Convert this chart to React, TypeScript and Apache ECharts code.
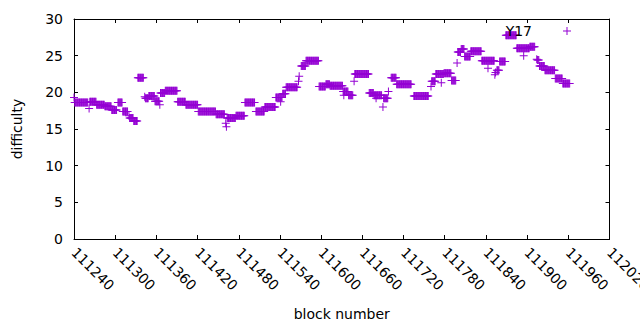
import React, { useEffect, useRef } from "react";
import * as echarts from "echarts";

// constant-difficulty runs: [firstBlock, lastBlock, difficulty]
const runs: [number, number, number][] = [
  [111241, 111260, 18.6],
  [111263, 111272, 18.7],
  [111273, 111284, 18.3],
  [111285, 111294, 18.1],
  [111295, 111302, 17.6],
  [111304, 111310, 18.6],
  [111311, 111318, 17.4],
  [111321, 111326, 16.5],
  [111327, 111332, 16.1],
  [111333, 111341, 22.0],
  [111344, 111348, 19.2],
  [111349, 111357, 19.5],
  [111358, 111364, 18.8],
  [111366, 111372, 19.9],
  [111373, 111390, 20.2],
  [111391, 111402, 18.7],
  [111403, 111420, 18.3],
  [111421, 111446, 17.4],
  [111447, 111459, 17.0],
  [111463, 111475, 16.5],
  [111476, 111488, 16.8],
  [111489, 111503, 18.6],
  [111505, 111517, 17.4],
  [111518, 111533, 18.0],
  [111534, 111543, 19.3],
  [111544, 111548, 19.8],
  [111549, 111565, 20.7],
  [111571, 111577, 23.6],
  [111578, 111596, 24.3],
  [111597, 111606, 20.8],
  [111607, 111612, 21.1],
  [111613, 111631, 20.9],
  [111632, 111639, 20.1],
  [111640, 111646, 19.6],
  [111649, 111669, 22.5],
  [111670, 111676, 19.9],
  [111677, 111688, 19.6],
  [111691, 111697, 19.2],
  [111702, 111709, 22.0],
  [111710, 111731, 21.1],
  [111735, 111756, 19.5],
  [111761, 111766, 21.5],
  [111767, 111778, 22.5],
  [111779, 111789, 22.6],
  [111790, 111796, 21.6],
  [111799, 111803, 25.5],
  [111804, 111808, 25.9],
  [111809, 111817, 24.9],
  [111818, 111833, 25.6],
  [111834, 111852, 24.3],
  [111856, 111859, 23.0],
  [111860, 111868, 24.2],
  [111869, 111884, 27.8],
  [111885, 111903, 26.0],
  [111904, 111911, 26.2],
  [111915, 111917, 24.4],
  [111918, 111925, 23.6],
  [111926, 111940, 23.0],
  [111941, 111951, 21.9],
  [111952, 111962, 21.2],
];

// isolated points: [block, difficulty]
const singles: [number, number][] = [
  [111240, 19.3],
  [111262, 17.8],
  [111320, 16.8],
  [111343, 19.4],
  [111365, 18.3],
  [111461, 15.8],
  [111462, 15.3],
  [111541, 18.7],
  [111567, 21.5],
  [111568, 22.2],
  [111633, 19.6],
  [111648, 21.5],
  [111680, 19.2],
  [111690, 18.0],
  [111698, 20.1],
  [111760, 20.8],
  [111775, 21.3],
  [111798, 24.0],
  [111843, 23.3],
  [111853, 22.4],
  [111854, 22.7],
  [111895, 25.0],
  [111914, 24.5],
];

const seriesName = "Y17";
const xMin = 111240;
const xMax = 112020;
const xStep = 60;
const yMin = 0;
const yMax = 30;
const yStep = 5;

const CROSS = "path://M0 3.5H8V4.5H0Z M3.5 0H4.5V8H3.5Z";
const FONT = "DejaVu Sans";
const COLOR = "#9400D3";

function buildPoints(): [number, number][] {
  const pts: [number, number][] = [];
  for (const [a, b, v] of runs) {
    for (let k = a; k <= b; k++) pts.push([k, v]);
  }
  for (const p of singles) pts.push(p);
  return pts;
}

export default function App() {
  const ref = useRef<HTMLDivElement>(null);
  useEffect(() => {
    if (!ref.current) return;
    const chart = echarts.init(ref.current, null, { renderer: "svg" });
    const axisLine = { show: true, onZero: false, lineStyle: { color: "#000", width: 1 } };
    const tick = { show: true, inside: true, length: 4, lineStyle: { color: "#000", width: 1 } };
    chart.setOption({
      animation: false,
      backgroundColor: "#fff",
      grid: {
        left: 74,
        right: 30.5,
        top: 19,
        bottom: 91,
        containLabel: false,
        outerBoundsMode: "none",
      },
      legend: {
        data: [seriesName],
        right: 69,
        top: 24,
        padding: 0,
        align: "right",
        icon: CROSS,
        itemWidth: 8,
        itemHeight: 8,
        textStyle: {
          fontFamily: FONT,
          fontSize: 14,
          color: "#000",
          padding: [0, 26, 0, 0],
        },
      },
      xAxis: [
        {
          type: "value",
          min: xMin,
          max: xMax,
          interval: xStep,
          position: "bottom",
          axisLine,
          axisTick: tick,
          splitLine: { show: false },
          axisLabel: {
            rotate: -45,
            margin: 11,
            color: "#000",
            fontFamily: FONT,
            fontSize: 14,
            showMinLabel: true,
            showMaxLabel: true,
            formatter: (v: number) => String(v),
          },
          name: "block number",
          nameLocation: "middle",
          nameGap: 68,
          nameTextStyle: { fontFamily: FONT, fontSize: 14, color: "#000" },
        },
        {
          type: "value",
          min: xMin,
          max: xMax,
          interval: xStep,
          position: "top",
          axisLine,
          axisTick: tick,
          splitLine: { show: false },
          axisLabel: { show: false },
        },
      ],
      yAxis: [
        {
          type: "value",
          min: yMin,
          max: yMax,
          interval: yStep,
          position: "left",
          axisLine,
          axisTick: tick,
          splitLine: { show: false },
          axisLabel: { margin: 11, color: "#000", fontFamily: FONT, fontSize: 14 },
          name: "difficulty",
          nameLocation: "middle",
          nameGap: 50,
          nameTextStyle: { fontFamily: FONT, fontSize: 14, color: "#000" },
        },
        {
          type: "value",
          min: yMin,
          max: yMax,
          interval: yStep,
          position: "right",
          axisLine,
          axisTick: tick,
          splitLine: { show: false },
          axisLabel: { show: false },
        },
      ],
      series: [
        {
          name: seriesName,
          type: "scatter",
          xAxisIndex: 0,
          yAxisIndex: 0,
          symbol: CROSS,
          symbolSize: 8,
          itemStyle: { color: COLOR, opacity: 1 },
          data: buildPoints(),
        },
      ],
    });
    return () => chart.dispose();
  }, []);
  return (
    <div
      ref={ref}
      style={{ position: "fixed", left: 0, top: 0, width: 640, height: 330, background: "#fff" }}
    />
  );
}
